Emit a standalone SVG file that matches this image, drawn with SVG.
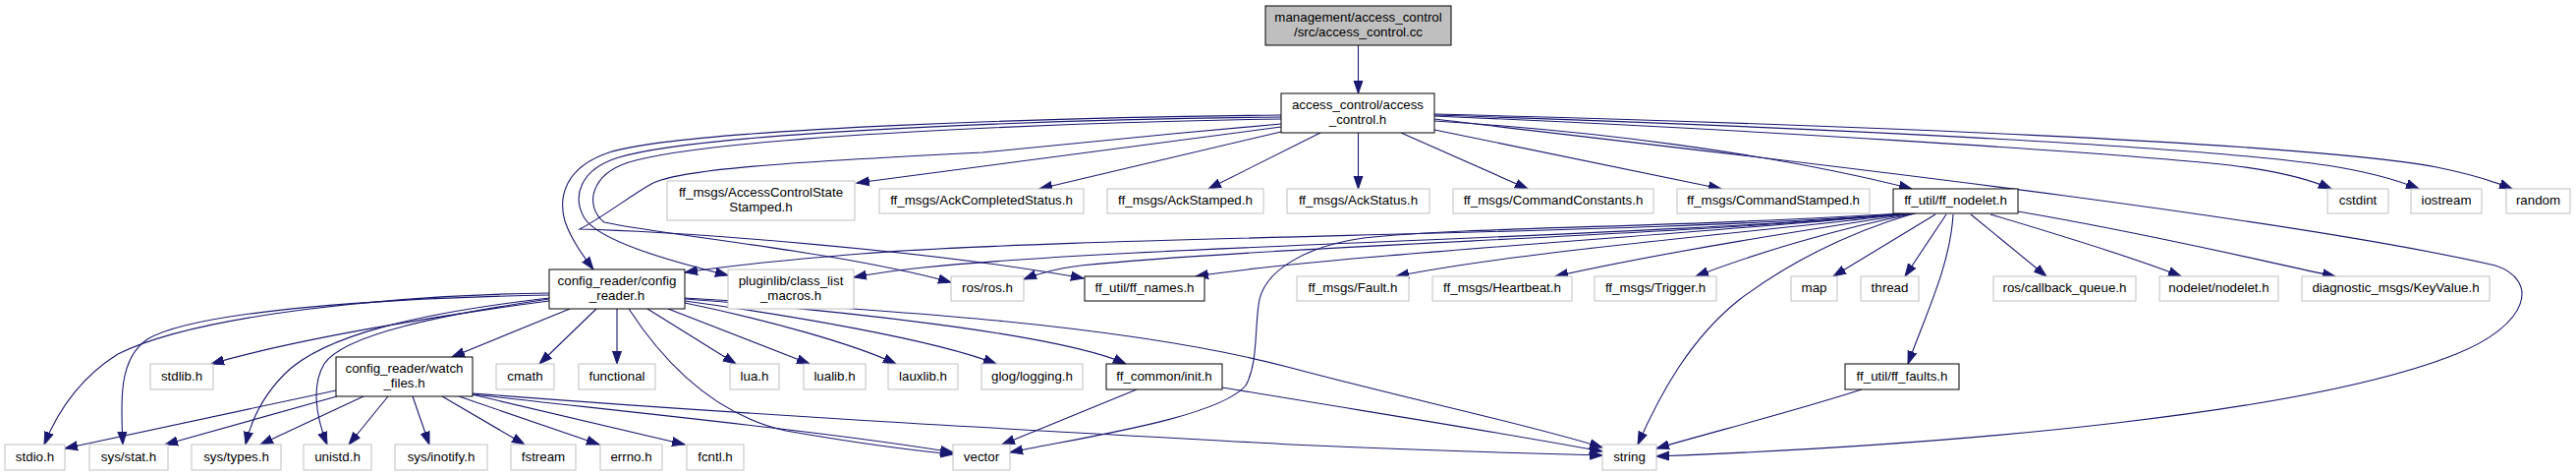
<svg xmlns="http://www.w3.org/2000/svg" width="2622" height="484" viewBox="0 0 2622 484">
<style>
.n rect{fill:#fff;stroke:#000;stroke-width:1}
.g rect{fill:#fff;stroke:#bfbfbf;stroke-width:1}
.r rect{fill:#bfbfbf;stroke:#000;stroke-width:1}
text{font-family:"Liberation Sans",Arial,Helvetica,sans-serif;font-size:13.33px;fill:#000;text-anchor:middle}
#edges path{fill:none;stroke:#191970;stroke-width:1.1;marker-end:url(#a)}
</style>
<defs>
<marker id="a" markerUnits="userSpaceOnUse" markerWidth="14" markerHeight="11" viewBox="0 0 14 11" refX="13" refY="5.5" orient="auto">
<path d="M0,1 L13,5.5 L0,10 z" fill="#191970" stroke="#191970" stroke-width="1"/>
</marker>
</defs>
<rect width="2622" height="484" fill="#fff"/>
<g id="edges">
<path d="M1382.5,46 L1382.5,95"/>
<path d="M1304,129 L872,186"/>
<path d="M1304,134 L1058,192"/>
<path d="M1344,135 L1230,192"/>
<path d="M1382.5,135 L1382.5,192"/>
<path d="M1426,135 L1555,192"/>
<path d="M1460,132 L1752,192"/>
<path d="M1460,123 C1620,133 1800,155 1946,192"/>
<path d="M1460,118 C1750,130 2150,155 2270,168 C2320,174 2350,182 2373,192"/>
<path d="M1460,117 C1800,128 2250,148 2380,170 C2420,177 2445,185 2462,192"/>
<path d="M1460,116 C1850,126 2350,145 2480,170 C2515,177 2540,185 2557,192"/>
<path d="M1460,121 C1700,150 2300,215 2540,270 C2585,285 2575,330 2500,360 C2350,420 2000,452 1686,464"/>
<path d="M1304,117 C1100,119 700,130 620,155 C575,170 568,200 575,225 C582,245 595,262 604,274"/>
<path d="M1304,119 C1100,121 720,133 630,160 C590,172 582,200 595,222 C610,245 680,265 741,280"/>
<path d="M1304,121 C1100,124 730,138 640,165 C600,178 595,210 615,226 C680,240 850,255 968,287"/>
<path d="M1304,126 C1200,135 1050,150 1000,155 C800,165 690,172 663,187 C640,200 615,220 590,233 C700,236 950,255 1103,283"/>
<path d="M1940,217 C1700,238 1100,240 877,258 C790,265 730,272 697,277"/>
<path d="M1940,217 C1700,240 1150,250 940,272 C910,275 885,279 869,282"/>
<path d="M1942,217 C1700,240 1300,250 1100,270 C1075,273 1055,279 1042,284"/>
<path d="M1945,217 C1700,240 1350,260 1217,281"/>
<path d="M1945,217 C1800,235 1550,255 1421,281"/>
<path d="M1948,217 C1850,232 1700,255 1583,281"/>
<path d="M1950,217 C1870,232 1780,260 1726,281"/>
<path d="M1970,218 L1866,281"/>
<path d="M1981,218 L1939,281"/>
<path d="M1988,218 C1985,270 1960,320 1942,370"/>
<path d="M2006,218 L2083,281"/>
<path d="M2026,218 C2100,240 2180,265 2220,281"/>
<path d="M2054,215 C2200,240 2300,265 2377,281"/>
<path d="M1948,217 C1870,240 1810,275 1770,305 C1720,345 1690,400 1667,452"/>
<path d="M1935,217 C1700,232 1500,230 1388,242 C1330,250 1285,275 1281,310 C1277,340 1280,370 1268,392 C1240,425 1100,445 1028,460"/>
<path d="M580,314 L460,363"/>
<path d="M607,314 L549,370"/>
<path d="M628,314 L628,370"/>
<path d="M659,314 L749,370"/>
<path d="M680,314 L824,370"/>
<path d="M697,308 C780,325 870,350 912,370"/>
<path d="M697,306 C800,320 950,345 1014,370"/>
<path d="M697,304 C850,315 1080,340 1146,370"/>
<path d="M697,303 C900,315 1150,330 1314,374 C1450,410 1550,430 1631,455"/>
<path d="M640,314 C670,360 720,420 800,438 C880,452 930,458 970,462"/>
<path d="M559,298 C400,300 200,320 120,360 C80,385 58,420 45,452"/>
<path d="M559,300 C400,303 200,315 150,345 C120,365 123,410 125,452"/>
<path d="M559,306 C450,320 300,345 215,370"/>
<path d="M559,303 C430,318 330,340 290,380 C265,405 255,430 250,452"/>
<path d="M559,304 C450,320 350,340 330,370 C318,390 320,420 333,452"/>
<path d="M342,397 L66,456"/>
<path d="M343,403 L168,452"/>
<path d="M370,403 L265,452"/>
<path d="M395,403 L355,452"/>
<path d="M420,403 L437,452"/>
<path d="M450,403 L534,452"/>
<path d="M467,403 L610,452"/>
<path d="M480,401 L697,452"/>
<path d="M481,401 C650,420 850,440 970,460"/>
<path d="M481,400 C800,425 1100,440 1314,452 C1450,458 1550,461 1631,463"/>
<path d="M1157,396 L1020,452"/>
<path d="M1244,394 C1400,420 1530,440 1631,459"/>
<path d="M1895,396 C1820,420 1740,440 1686,456"/>
</g>
<g id="root" class="r"><rect x="1288" y="6" width="189" height="40"/><text x="1382.5" y="21.5">management/access_control</text><text x="1382.5" y="36.5">/src/access_control.cc</text></g>
<g id="access_control_h" class="n"><rect x="1304" y="95" width="156" height="40"/><text x="1382" y="110.5">access_control/access</text><text x="1382" y="125.5">_control.h</text></g>
<g id="AccessControlStateStamped" class="g"><rect x="679" y="184" width="191" height="40"/><text x="774.5" y="199.5">ff_msgs/AccessControlState</text><text x="774.5" y="214.5">Stamped.h</text></g>
<g id="AckCompletedStatus" class="g"><rect x="895" y="192" width="208" height="25"/><text x="999" y="208">ff_msgs/AckCompletedStatus.h</text></g>
<g id="AckStamped" class="g"><rect x="1127" y="192" width="159" height="25"/><text x="1206.5" y="208">ff_msgs/AckStamped.h</text></g>
<g id="AckStatus" class="g"><rect x="1310" y="192" width="145" height="25"/><text x="1382.5" y="208">ff_msgs/AckStatus.h</text></g>
<g id="CommandConstants" class="g"><rect x="1479" y="192" width="204" height="25"/><text x="1581" y="208">ff_msgs/CommandConstants.h</text></g>
<g id="CommandStamped" class="g"><rect x="1707" y="192" width="196" height="25"/><text x="1805" y="208">ff_msgs/CommandStamped.h</text></g>
<g id="ff_nodelet" class="n"><rect x="1927" y="192" width="127" height="25"/><text x="1990.5" y="208">ff_util/ff_nodelet.h</text></g>
<g id="cstdint" class="g"><rect x="2369" y="192" width="62" height="25"/><text x="2400" y="208">cstdint</text></g>
<g id="iostream" class="g"><rect x="2454" y="192" width="72" height="25"/><text x="2490" y="208">iostream</text></g>
<g id="random" class="g"><rect x="2551" y="192" width="65" height="25"/><text x="2583.5" y="208">random</text></g>
<g id="config_reader" class="n"><rect x="559" y="274" width="138" height="40"/><text x="628" y="289.5">config_reader/config</text><text x="628" y="304.5">_reader.h</text></g>
<g id="pluginlib" class="g"><rect x="741" y="274" width="128" height="40"/><text x="805" y="289.5">pluginlib/class_list</text><text x="805" y="304.5">_macros.h</text></g>
<g id="ros_h" class="g"><rect x="968" y="281" width="74" height="25"/><text x="1005" y="297">ros/ros.h</text></g>
<g id="ff_names" class="n"><rect x="1104" y="281" width="122" height="25"/><text x="1165" y="297">ff_util/ff_names.h</text></g>
<g id="Fault" class="g"><rect x="1320" y="281" width="114" height="25"/><text x="1377" y="297">ff_msgs/Fault.h</text></g>
<g id="Heartbeat" class="g"><rect x="1458" y="281" width="142" height="25"/><text x="1529" y="297">ff_msgs/Heartbeat.h</text></g>
<g id="Trigger" class="g"><rect x="1623" y="281" width="124" height="25"/><text x="1685" y="297">ff_msgs/Trigger.h</text></g>
<g id="map" class="g"><rect x="1823" y="281" width="47" height="25"/><text x="1846.5" y="297">map</text></g>
<g id="thread" class="g"><rect x="1894" y="281" width="59" height="25"/><text x="1923.5" y="297">thread</text></g>
<g id="callback_queue" class="g"><rect x="2029" y="281" width="145" height="25"/><text x="2101.5" y="297">ros/callback_queue.h</text></g>
<g id="nodelet" class="g"><rect x="2198" y="281" width="121" height="25"/><text x="2258.5" y="297">nodelet/nodelet.h</text></g>
<g id="KeyValue" class="g"><rect x="2343" y="281" width="191" height="25"/><text x="2438.5" y="297">diagnostic_msgs/KeyValue.h</text></g>
<g id="stdlib" class="g"><rect x="153" y="370" width="64" height="26"/><text x="185" y="386.5">stdlib.h</text></g>
<g id="watch_files" class="n"><rect x="342" y="363" width="139" height="40"/><text x="411.5" y="378.5">config_reader/watch</text><text x="411.5" y="393.5">_files.h</text></g>
<g id="cmath" class="g"><rect x="505" y="370" width="59" height="26"/><text x="534.5" y="386.5">cmath</text></g>
<g id="functional" class="g"><rect x="589" y="370" width="78" height="26"/><text x="628" y="386.5">functional</text></g>
<g id="lua_h" class="g"><rect x="743" y="370" width="50" height="26"/><text x="768" y="386.5">lua.h</text></g>
<g id="lualib" class="g"><rect x="818" y="370" width="63" height="26"/><text x="849.5" y="386.5">lualib.h</text></g>
<g id="lauxlib" class="g"><rect x="904" y="370" width="71" height="26"/><text x="939.5" y="386.5">lauxlib.h</text></g>
<g id="glog" class="g"><rect x="999" y="370" width="103" height="26"/><text x="1050.5" y="386.5">glog/logging.h</text></g>
<g id="ff_common_init" class="n"><rect x="1126" y="370" width="118" height="26"/><text x="1185" y="386.5">ff_common/init.h</text></g>
<g id="ff_faults" class="n"><rect x="1878" y="370" width="116" height="26"/><text x="1936" y="386.5">ff_util/ff_faults.h</text></g>
<g id="stdio" class="g"><rect x="5" y="452" width="61" height="26"/><text x="35.5" y="468.5">stdio.h</text></g>
<g id="sys_stat" class="g"><rect x="91" y="452" width="80" height="26"/><text x="131" y="468.5">sys/stat.h</text></g>
<g id="sys_types" class="g"><rect x="195" y="452" width="91" height="26"/><text x="240.5" y="468.5">sys/types.h</text></g>
<g id="unistd" class="g"><rect x="309" y="452" width="69" height="26"/><text x="343.5" y="468.5">unistd.h</text></g>
<g id="sys_inotify" class="g"><rect x="402" y="452" width="94" height="26"/><text x="449" y="468.5">sys/inotify.h</text></g>
<g id="fstream" class="g"><rect x="520" y="452" width="66" height="26"/><text x="553" y="468.5">fstream</text></g>
<g id="errno" class="g"><rect x="611" y="452" width="63" height="26"/><text x="642.5" y="468.5">errno.h</text></g>
<g id="fcntl" class="g"><rect x="699" y="452" width="58" height="26"/><text x="728" y="468.5">fcntl.h</text></g>
<g id="vector" class="g"><rect x="970" y="452" width="58" height="26"/><text x="999" y="468.5">vector</text></g>
<g id="string" class="g"><rect x="1631" y="452" width="55" height="26"/><text x="1658.5" y="468.5">string</text></g>
</svg>
